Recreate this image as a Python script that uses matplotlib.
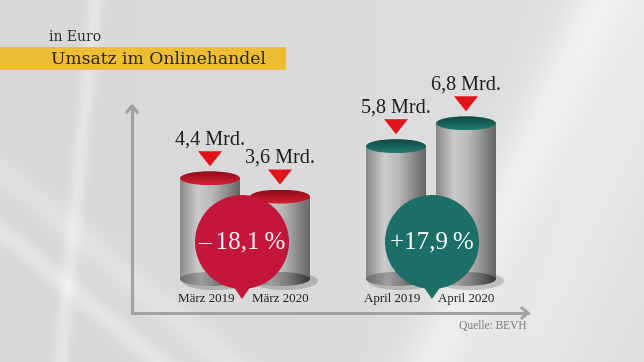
import numpy as np
import matplotlib.pyplot as plt
from matplotlib.colors import to_rgb
from matplotlib.patches import Ellipse, Polygon, Rectangle
from matplotlib.transforms import Affine2D

# Daten (Mrd. Euro)
monate = ['März 2019', 'März 2020', 'April 2019', 'April 2020']
umsatz = [4.4, 3.6, 5.8, 6.8]
wert_labels = ['4,4 Mrd.', '3,6 Mrd.', '5,8 Mrd.', '6,8 Mrd.']
veraenderung = ['\u2013\u200918,1\u2009%', '+17,9\u2009%']
deckel_farben = [('#8e0d1c', '#d51f31'), ('#0c4842', '#237a70')]
blasen_farben = ['#c4153a', '#1b6f66']

W, H = 644, 362
BASE = 279          # pixel row of the zero line
PX = 22.9           # pixels per Mrd.
serif = ['Liberation Serif', 'DejaVu Serif']
plt.rcParams['font.family'] = serif

fig = plt.figure(figsize=(W / 100, H / 100), dpi=100)

# background, pixel coordinates
bg = fig.add_axes([0, 0, 1, 1])
bg.set_xlim(0, W)
bg.set_ylim(H, 0)
bg.axis('off')
yy, xx = np.mgrid[0:H, 0:W]
img = 0.845 + 0.03 * xx / W
def band(x0, y0, x1, y1, width, amp):
    d = np.abs((x1 - x0) * (y0 - yy) - (x0 - xx) * (y1 - y0)) / np.hypot(x1 - x0, y1 - y0)
    return amp * np.exp(-(d / width) ** 2)
img += band(600, 0, 430, 362, 30, 0.06)
img += band(650, 40, 520, 362, 60, 0.04)
img += band(95, 0, 60, 362, 8, 0.05)
img += band(0, 230, 160, 362, 10, 0.05)
img += band(0, 170, 230, 362, 14, 0.035)
img = np.clip(img, 0, 1)
bg.imshow(np.dstack([img] * 3), extent=[0, W, H, 0], aspect='auto', zorder=0)

# header
bg.text(49, 41, 'in Euro', fontsize=10, color='#2b2b2b', va='baseline',
        family='DejaVu Serif')
bg.add_patch(Rectangle((0, 47), 286, 23, fc='#efbd33', ec='none', zorder=1))
bg.text(51, 64, 'Umsatz im Onlinehandel', fontsize=12.3, color='#222222',
        va='baseline', zorder=2, family='DejaVu Serif')

# axis arrows
ax_col = '#a2a2a2'
bg.plot([132, 132, 528], [106, 313, 313], color='white', lw=1, alpha=0.7,
        zorder=1, transform=Affine2D().translate(1.5, -1.5) + bg.transData)
bg.plot([132, 132, 528], [106, 313, 313], color=ax_col, lw=2.2, zorder=2,
        solid_joinstyle='miter')
bg.plot([127, 132, 137], [112, 106, 112], color=ax_col, lw=2.2, zorder=2)
bg.plot([522, 528, 522], [308, 313, 318], color=ax_col, lw=2.2, zorder=2)
bg.text(527, 329, 'Quelle: BEVH', fontsize=8.3, color='#7a7a7a', ha='right',
        va='baseline')

# chart axes: x in pixels, y in Mrd. Euro
ch = fig.add_axes([0, 0, 1, 1], facecolor='none')

def py(p):
    return p / PX

xs = [210, 280, 396, 466]
half_w = 30
eh = py(14)

g_t = np.linspace(0, 1, 80)
g_body = np.interp(g_t, [0, 0.3, 0.55, 1], [0.54, 0.80, 0.72, 0.40])
g_base = np.interp(g_t, [0, 0.35, 0.6, 1], [0.42, 0.62, 0.50, 0.22])

def vgrad(c_low, c_high, n=64):
    t = np.linspace(0, 1, n)[:, None]
    c0 = np.array(to_rgb(c_low))
    c1 = np.array(to_rgb(c_high))
    return (c1 + (c0 - c1) * t)[:, None, :]

for i, (x, v) in enumerate(zip(xs, umsatz)):
    grp = i // 2
    x0, x1 = x - half_w, x + half_w
    # shadow
    ch.add_patch(Ellipse((x + 5, -py(2)), 2 * half_w + 6, eh * 1.3, fc='black',
                         alpha=0.18, ec='none', zorder=1))
    # body
    ch.imshow(np.dstack([g_body] * 3), extent=[x0, x1, 0, v], aspect='auto',
              origin='lower', zorder=2)
    # base ellipse
    e = Ellipse((x, 0), 2 * half_w, eh, fc='none', ec='none',
                transform=ch.transData)
    ch.add_patch(e)
    im = ch.imshow(np.dstack([g_base] * 3), extent=[x0, x1, -eh, eh],
                   aspect='auto', origin='lower', zorder=3)
    im.set_clip_path(e)
    # top ellipse
    e = Ellipse((x, v), 2 * half_w, eh, fc='none', ec='none',
                transform=ch.transData)
    ch.add_patch(e)
    c_dark, c_light = deckel_farben[grp]
    im = ch.imshow(vgrad(c_dark, c_light), extent=[x0, x1, v - eh / 2, v + eh / 2],
                   aspect='auto', origin='lower', zorder=4)
    im.set_clip_path(e)
    # marker triangle
    top = v + eh / 2
    ch.add_patch(Polygon([[x - 12, top + py(20)], [x + 12, top + py(20)],
                          [x, top + py(5)]], closed=True, fc='#e3121b',
                         ec='none', zorder=5))
    ch.text(x, top + py(27), wert_labels[i], fontsize=14.5, color='#1e1e1e',
            ha='center', va='baseline', zorder=5)
    ch.text(x - 4 if i % 2 == 0 else x, -py(23), monate[i], fontsize=9.4,
            color='#1e1e1e', ha='center', va='baseline', zorder=5)

# change bubbles
for grp in range(2):
    cx = (xs[2 * grp] + xs[2 * grp + 1]) / 2 - (3 if grp == 0 else -1)
    cy = py(BASE - 242)
    r = 47
    col = blasen_farben[grp]
    ch.add_patch(Ellipse((cx, cy), 2 * r, py(2 * r), fc=col, ec='none', zorder=6))
    ch.add_patch(Polygon([[cx - 9, cy - py(r - 3)], [cx + 9, cy - py(r - 3)],
                          [cx, cy - py(r + 10)]], closed=True, fc=col,
                         ec='none', zorder=6))
    ch.text(cx, cy, veraenderung[grp], fontsize=18, color='white', ha='center',
            va='center', zorder=7)

ch.set_xlim(0, W)
ch.set_ylim(py(BASE - H), py(BASE))
ch.axis('off')

fig.savefig('out.png', dpi=100)
